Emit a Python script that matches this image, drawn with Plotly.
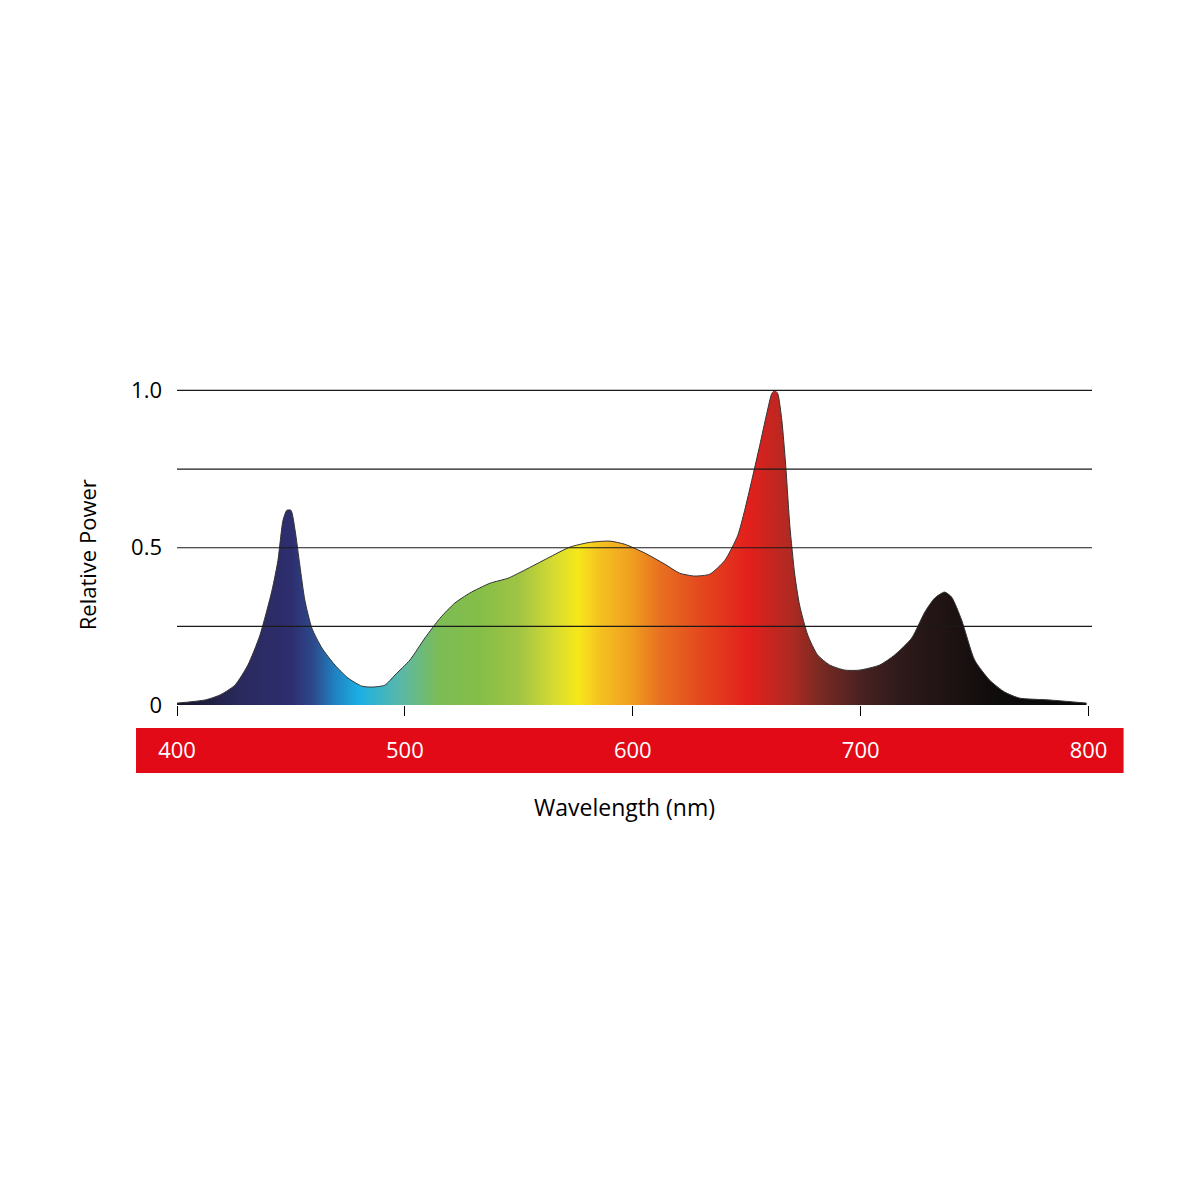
import plotly.graph_objects as go

# ---- data ----
wavelength = [400, 412.3, 418.9, 425.4, 431.1, 436.4, 441.7, 444.3, 446.5, 448.2, 450.0,
              451.8, 453.9, 456.1, 459.2, 463.6, 469.3, 475.0, 481.1, 485.5, 491.2,
              495.6, 502.2, 508.8, 515.4, 521.9, 528.5, 537.3, 545.2, 552.6, 562.7,
              572.4, 581.1, 589.9, 596.5, 605.3, 614.0, 620.6, 627.2, 633.8, 640.4,
              646.1, 649.1, 652.2, 655.7, 658.8, 661.0, 662.3, 663.6, 665.4, 667.1,
              668.9, 671.1, 673.2, 676.8, 681.1, 686.4, 693.0, 699.6, 708.3, 714.9,
              722.4, 728.1, 732.5, 736.8, 739.9, 744.3, 750.0, 756.6, 763.2, 769.7,
              782.9, 799.1]
power = [0.006, 0.016, 0.032, 0.063, 0.127, 0.222, 0.365, 0.46, 0.587, 0.619, 0.619,
         0.556, 0.444, 0.333, 0.244, 0.181, 0.127, 0.086, 0.060, 0.057, 0.063,
         0.095, 0.143, 0.213, 0.276, 0.324, 0.356, 0.387, 0.403, 0.429, 0.467,
         0.502, 0.517, 0.521, 0.511, 0.483, 0.448, 0.419, 0.410, 0.416, 0.460,
         0.540, 0.619, 0.714, 0.825, 0.927, 0.990, 1.0, 0.990, 0.905, 0.762,
         0.571, 0.413, 0.317, 0.222, 0.159, 0.127, 0.111, 0.111, 0.127, 0.159,
         0.213, 0.295, 0.340, 0.359, 0.343, 0.270, 0.143, 0.079, 0.041, 0.022,
         0.016, 0.006]

# spectrum colour stops (nm, colour)
color_nm = [400, 428, 450, 460, 469, 480, 498, 515, 533, 550, 566, 576, 586, 599,
            612, 629, 651, 669, 682, 700, 717, 761, 800]
color_hex = ["#15152a", "#2a2a5e", "#2e2d6e", "#2c4a8c", "#2080c0", "#1bb0e4",
             "#5ab8a8", "#7cbc55", "#85be48", "#a0c444", "#d8dc30", "#f6e81a",
             "#f5c020", "#f0a020", "#e87020", "#e44a1e", "#e21f1c", "#b02a22",
             "#7a2a22", "#4a2222", "#2e1a1a", "#0e0b0b", "#0a0a0a"]

x_ticks = [400, 500, 600, 700, 800]
x_ticktext = ["400", "500", "600", "700", "800"]
y_ticks = [0, 0.5, 1.0]
y_ticktext = ["0", "0.5", "1.0"]
grid_values = [0.25, 0.5, 0.75, 1.0]

# ---- layout geometry (figure px; page body adds an 8px offset) ----
OFF = 8
L, R_px, T, B = 177 - OFF, 1092.4 - OFF, 358.5 - OFF, 705 - OFF
W = R_px - L
H = B - T
FONT = "Open Sans"
FS = 22


def px_x(sx):
    return (sx - OFF - L) / W


def px_y(sy):
    return (B - (sy - OFF)) / H


cs = [[(n - 400) / 400, c] for n, c in zip(color_nm, color_hex)]

fig = go.Figure()
fig.add_trace(go.Scatter(
    x=wavelength, y=power, mode="lines", fill="tozeroy",
    line=dict(color="#333333", width=1, shape="spline", smoothing=0.6),
    fillgradient=dict(type="horizontal", colorscale=cs, start=400, stop=800),
    hoverinfo="skip", showlegend=False,
))

shapes = [dict(type="rect", xref="paper", yref="paper",
               x0=px_x(136), x1=px_x(1124), y0=px_y(773), y1=px_y(728),
               fillcolor="#E20A17", line=dict(width=0), layer="below")]
for g in grid_values:
    shapes.append(dict(type="line", xref="paper", yref="y", x0=0, x1=1, y0=g, y1=g,
                       line=dict(color="#1a1a1a", width=1.2), layer="above"))

fig.update_layout(
    width=1200, height=1200,
    margin=dict(l=L, r=1200 - R_px, t=T, b=1200 - B, pad=0),
    paper_bgcolor="white", plot_bgcolor="white",
    font=dict(family=FONT, size=FS, color="black"),
    shapes=shapes,
    xaxis=dict(range=[400, 801.5], tickvals=x_ticks, ticktext=x_ticktext,
               ticks="outside", ticklen=10, tickwidth=1, tickcolor="black",
               showgrid=False, zeroline=False, showline=False,
               tickfont=dict(color="white", size=FS, family=FONT),
               ticklabelstandoff=16, fixedrange=True),
    yaxis=dict(range=[0, 1.1], tickvals=y_ticks, ticktext=y_ticktext,
               showgrid=False, zeroline=False, showline=False, ticks="",
               tickfont=dict(size=FS, family=FONT), ticklabelstandoff=14,
               fixedrange=True),
    annotations=[
        dict(text="Relative Power", xref="paper", yref="paper",
             x=px_x(87), y=px_y(555), textangle=-90, showarrow=False,
             xanchor="center", yanchor="middle", font=dict(size=FS, family=FONT)),
        dict(text="Wavelength (nm)", xref="paper", yref="paper",
             x=px_x(625), y=px_y(807), showarrow=False,
             xanchor="center", yanchor="middle", font=dict(size=FS + 1, family=FONT)),
    ],
)

fig.write_html("out.html")
